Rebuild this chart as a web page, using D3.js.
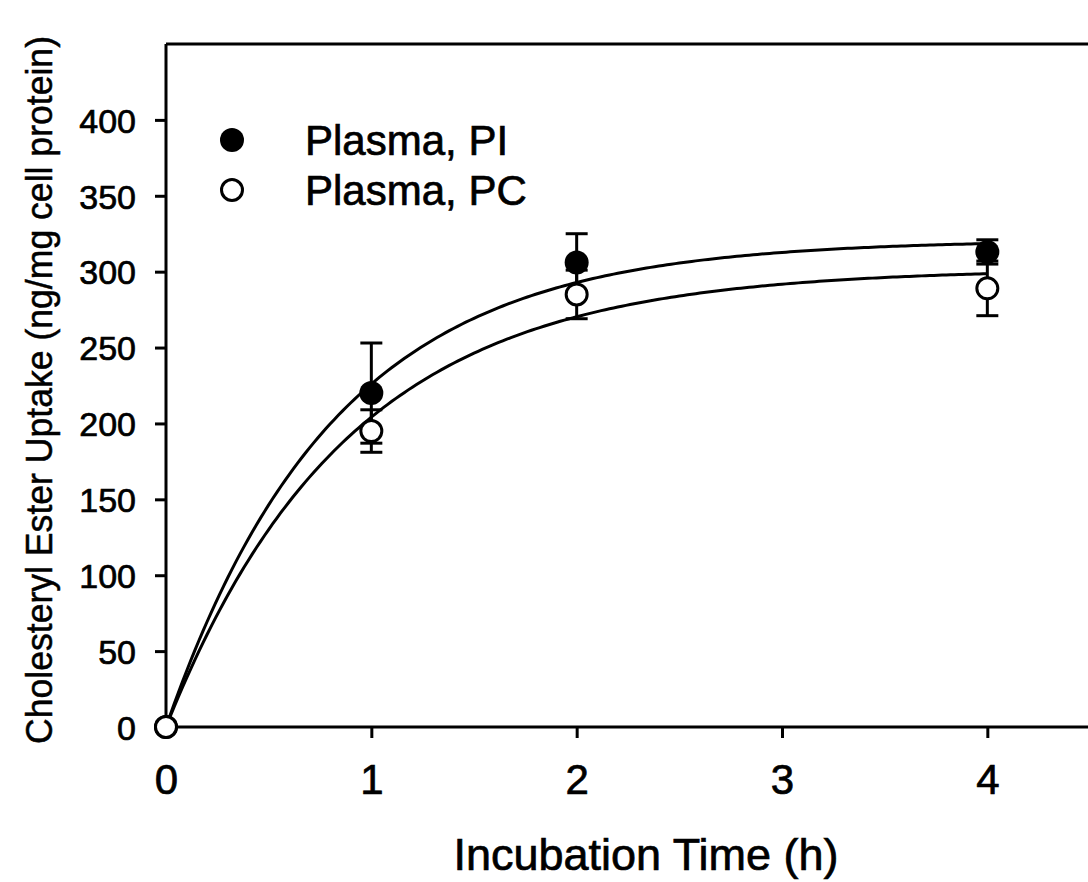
<!DOCTYPE html>
<html>
<head>
<meta charset="utf-8">
<script src="https://cdn.jsdelivr.net/npm/d3@7"></script>
<style>
  html, body { margin: 0; padding: 0; background: #fff; }
  svg { display: block; font-family: "Liberation Sans", Arial, sans-serif; }
</style>
</head>
<body>
<div class="graph"></div>
<script>
// incubation time (h)
const times = [0, 1, 2, 4];
// Plasma, PI (filled) mean and error
const piMean = [0, 220, 306, 313];
const piErr = [0, 33, 19, 8];
// Plasma, PC (open) mean and error
const pcMean = [0, 195, 285, 289];
const pcErr = [0, 14, 16, 18];
// exponential rise fit: y = a * (1 - exp(-b t))
const piFit = [321, 1.217];
const pcFit = [302, 1.127];

const xTicks = [0, 1, 2, 3, 4];
const yTicks = [0, 50, 100, 150, 200, 250, 300, 350, 400];
const legendLabels = ['Plasma, PI', 'Plasma, PC'];

const W = 1088, H = 882;
const svg = d3.select('.graph').append('svg')
  .attr('width', W)
  .attr('height', H);

const x = d3.scaleLinear().domain([0, 4.5]).range([166, 1090]);
const y = d3.scaleLinear().domain([0, 450]).range([727, 44]);

// frame
const frame = svg.append('g')
  .attr('fill', 'none')
  .attr('stroke', '#000')
  .attr('stroke-width', 3);
frame.append('line').attr('x1', x(0)).attr('x2', x(0)).attr('y1', y(450)).attr('y2', y(0));
frame.append('line').attr('x1', x(0)).attr('x2', x(4.5)).attr('y1', y(450)).attr('y2', y(450));
frame.append('line').attr('x1', x(0)).attr('x2', x(4.5)).attr('y1', y(0)).attr('y2', y(0));
frame.append('line').attr('x1', x(4.5)).attr('x2', x(4.5)).attr('y1', y(450)).attr('y2', y(0));

// axes
const xAxis = svg.append('g')
  .attr('transform', `translate(0,${y(0)})`)
  .call(d3.axisBottom(x).tickValues(xTicks).tickSize(11).tickPadding(26).tickFormat(d3.format('d')));
const yAxis = svg.append('g')
  .attr('transform', `translate(${x(0)},0)`)
  .call(d3.axisLeft(y).tickValues(yTicks).tickSize(11).tickPadding(19).tickFormat(d3.format('d')));

[xAxis, yAxis].forEach(a => {
  a.select('.domain').remove();
  a.selectAll('.tick line').attr('stroke', '#000').attr('stroke-width', 3);
  a.selectAll('.tick text')
    .attr('fill', '#000')
    .attr('stroke', '#000')
    .attr('stroke-width', 0.7)
    .attr('font-family', '"Liberation Sans", Arial, sans-serif');
});
xAxis.selectAll('.tick text').attr('font-size', 42).attr('dy', '0.71em');
yAxis.selectAll('.tick text').attr('font-size', 34).attr('dy', '0.36em');

// fitted curves
const curveT = d3.range(0, 4.0001, 0.02);
const line = d3.line()
  .x(d => x(d[0]))
  .y(d => y(d[1]));

[piFit, pcFit].forEach(p => {
  svg.append('path')
    .datum(curveT.map(t => [t, p[0] * (1 - Math.exp(-p[1] * t))]))
    .attr('fill', 'none')
    .attr('stroke', '#000')
    .attr('stroke-width', 3)
    .attr('d', line);
});

// error bars
const capW = 11;
function errorBars(mean, err) {
  const g = svg.append('g').attr('stroke', '#000').attr('stroke-width', 3);
  times.forEach((t, i) => {
    if (!err[i]) return;
    const cx = x(t);
    const lo = y(mean[i] - err[i]), hi = y(mean[i] + err[i]);
    g.append('line').attr('x1', cx).attr('x2', cx).attr('y1', lo).attr('y2', hi);
    g.append('line').attr('x1', cx - capW).attr('x2', cx + capW).attr('y1', lo).attr('y2', lo);
    g.append('line').attr('x1', cx - capW).attr('x2', cx + capW).attr('y1', hi).attr('y2', hi);
  });
}
errorBars(piMean, piErr);
errorBars(pcMean, pcErr);

// markers
svg.append('g').selectAll('circle')
  .data(times)
  .join('circle')
  .attr('cx', d => x(d))
  .attr('cy', (d, i) => y(piMean[i]))
  .attr('r', 12)
  .attr('fill', '#000');

svg.append('g').selectAll('circle')
  .data(times)
  .join('circle')
  .attr('cx', d => x(d))
  .attr('cy', (d, i) => y(pcMean[i]))
  .attr('r', 10.5)
  .attr('fill', '#fff')
  .attr('stroke', '#000')
  .attr('stroke-width', 3);

// legend
const legend = svg.append('g');
legendLabels.forEach((label, i) => {
  const ly = 140 + i * 50;
  legend.append('circle')
    .attr('cx', 232).attr('cy', ly)
    .attr('r', i === 0 ? 12 : 10.5)
    .attr('fill', i === 0 ? '#000' : '#fff')
    .attr('stroke', '#000')
    .attr('stroke-width', i === 0 ? 0 : 3);
  legend.append('text')
    .attr('x', 305).attr('y', ly)
    .attr('dy', '0.36em')
    .attr('font-size', 42)
    .attr('stroke', '#000')
    .attr('stroke-width', 0.7)
    .text(label);
});

// axis titles
svg.append('text')
  .attr('x', 646)
  .attr('y', 870)
  .attr('text-anchor', 'middle')
  .attr('font-size', 45)
  .attr('stroke', '#000')
  .attr('stroke-width', 0.7)
  .text('Incubation Time (h)');

svg.append('text')
  .attr('transform', 'translate(52,390) rotate(-90)')
  .attr('text-anchor', 'middle')
  .attr('font-size', 37)
  .attr('textLength', 708)
  .attr('lengthAdjust', 'spacingAndGlyphs')
  .attr('stroke', '#000')
  .attr('stroke-width', 0.5)
  .text('Cholesteryl Ester Uptake (ng/mg cell protein)');
</script>
</body>
</html>
